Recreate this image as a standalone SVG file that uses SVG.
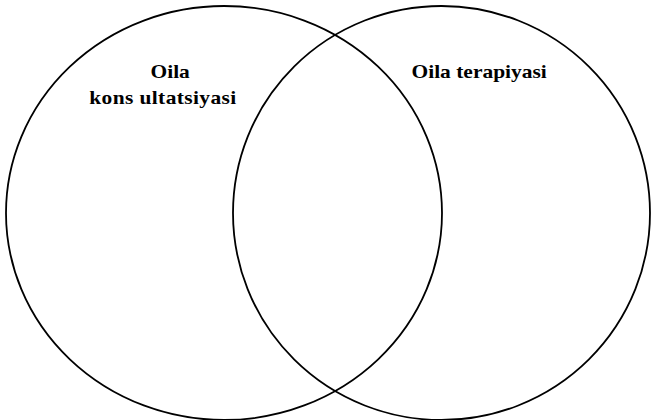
<svg xmlns="http://www.w3.org/2000/svg" width="651" height="420" viewBox="0 0 651 420">
<style>
.c{fill:none;stroke:#000;stroke-width:1.8}
.t{font-family:"Liberation Serif","Times New Roman",serif;font-weight:bold;font-size:19px;fill:#000}
</style>
<rect width="651" height="420" fill="#fff"/>
<g id="left">
<ellipse class="c" cx="224" cy="213" rx="218" ry="207"/>
<text class="t" transform="translate(150.5,77.5) scale(1.13,1)">Oila</text>
<text class="t" transform="translate(89.3,104) scale(1.13,1)" textLength="130" lengthAdjust="spacing">kons ultatsiyasi</text>
</g>
<g id="right">
<ellipse class="c" cx="441.5" cy="213" rx="208.5" ry="207"/>
<text class="t" transform="translate(411.5,77.7) scale(1.13,1)">Oila terapiyasi</text>
</g>
<g id="connectors"></g>
</svg>
